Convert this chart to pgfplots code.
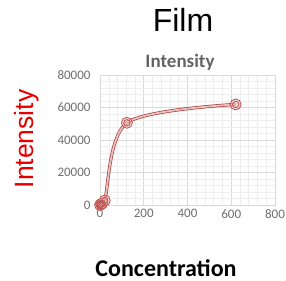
\documentclass[border=0pt]{standalone}
\usepackage{pgfplots}
\pgfplotsset{compat=1.18}
\usepackage{fontspec}
\setmainfont{Carlito}
\newfontfamily\arialf{Liberation Sans}
\definecolor{exred}{RGB}{192,80,77}
\definecolor{expink}{RGB}{236,190,188}
\definecolor{tickgray}{RGB}{110,110,110}
\definecolor{majgrid}{RGB}{217,217,217}
\definecolor{mingrid}{RGB}{238,238,238}
\begin{document}
\begin{tikzpicture}
\path[use as bounding box] (0,0) rectangle (286bp,281bp);
\begin{axis}[
  at={(100bp,76bp)}, anchor=south west,
  width=175bp, height=130bp, scale only axis,
  xmin=0, xmax=800, ymin=0, ymax=80000,
  xtick={0,200,400,600,800}, ytick={0,20000,40000,60000,80000},
  minor x tick num=4, minor y tick num=4,
  grid=both,
  major grid style={draw=majgrid, line width=0.8pt},
  minor grid style={draw=mingrid, line width=0.5pt},
  axis line style={draw=majgrid, line width=0.8pt},
  major tick length=0pt, minor tick length=0pt,
  scaled ticks=false,
  /pgf/number format/assume math mode=true,
  xticklabel={\pgfmathprintnumber[fixed,1000 sep={}]{\tick}},
  yticklabel={\pgfmathprintnumber[fixed,1000 sep={}]{\tick}},
  tick label style={font=\fontsize{13bp}{13bp}\selectfont, text=tickgray},
  yticklabel style={xshift=-6bp},
  xticklabel style={yshift=-1bp},
  clip=false,
]
\addplot[smooth, tension=0.5, draw=exred!85!black, line width=0.7pt, double=expink, double distance=1.8pt, no marks]
  coordinates {(0,0) (5,500) (10,1000) (22,2800) (123,50600) (620,61900)};
\addplot[only marks, mark=*, mark size=5.5bp, mark options={draw=exred, fill=expink, fill opacity=0.55, line width=0.8pt}]
  coordinates {(0,0) (5,500) (10,1000) (22,2800) (123,50600) (620,61900)};
\addplot[only marks, mark=o, mark size=3.2bp, mark options={draw=exred, line width=0.8pt}]
  coordinates {(0,0) (5,500) (10,1000) (22,2800) (123,50600) (620,61900)};
\end{axis}
\node at (183bp,261bp) {\arialf\fontsize{32bp}{32bp}\selectfont Film};
\node[text=tickgray!90!black] at (180bp,219bp) {\bfseries\fontsize{19bp}{19bp}\selectfont Intensity};
\node[rotate=90, text=red!90!black] at (27bp,142bp) {\arialf\fontsize{26.5bp}{26.5bp}\selectfont Intensity};
\node at (166bp,13bp) {\bfseries\fontsize{24bp}{24bp}\selectfont Concentration};
\end{tikzpicture}
\end{document}
